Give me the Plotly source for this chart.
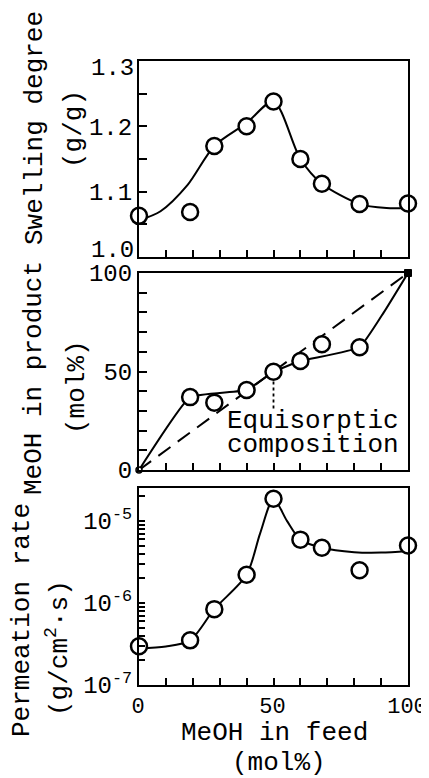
import math
import plotly.graph_objects as go

# ---------------- data ----------------
feed = [0, 19, 28, 40, 50, 60, 68, 82, 100]
swelling = [1.063, 1.069, 1.170, 1.200, 1.238, 1.150, 1.112, 1.081, 1.082]
product = [0, 37.0, 34.2, 40.6, 49.9, 55.3, 63.8, 62.3, 100]
permeation = [2.96e-7, 3.5e-7, 8.4e-7, 2.2e-6, 1.86e-5, 5.9e-6, 4.7e-6, 2.5e-6, 5.0e-6]

# hand-drawn trend curves (knots)
swell_curve_x = [0, 8, 18, 28, 40, 50, 60, 68, 82, 92, 100]
swell_curve_y = [1.056, 1.070, 1.110, 1.170, 1.205, 1.238, 1.150, 1.112, 1.081, 1.075, 1.075]

prod_curve_x = [0, 19, 40, 50, 60, 82, 91, 100]
prod_curve_y = [0, 37.0, 40.6, 49.9, 55.3, 62.3, 80, 100]

diag_x = [0, 100]
diag_y = [0, 100]

equi_x = [50, 50]
equi_y = [48, 30]

perm_curve_x = [0, 10, 19, 28, 40, 45, 50, 55, 60, 68, 80, 90, 100]
perm_curve_y = [2.8e-7, 2.95e-7, 3.5e-7, 8.4e-7, 2.2e-6, 7.0e-6, 1.85e-5, 1.0e-5,
                5.9e-6, 4.7e-6, 4.15e-6, 4.1e-6, 4.3e-6]

swell_ticks = [1.0, 1.05, 1.1, 1.15, 1.2, 1.25, 1.3]
swell_labels = {1.1: "1.1", 1.2: "1.2"}
swell_edge_labels = {1.0: "1.0", 1.3: "1.3"}
prod_ticks = list(range(0, 101, 10))
prod_labels = {0: "0", 50: "50", 100: "100"}
perm_ticks = [m * 10.0 ** e for e in (-7, -6, -5) for m in range(1, 10)
              if m * 10.0 ** e <= 2.5e-5]
perm_labels = {-7: "10<sup>-7</sup>", -6: "10<sup>-6</sup>", -5: "10<sup>-5</sup>"}
feed_ticks = list(range(0, 101, 10))
feed_labels = {0: "0", 50: "50", 100: "100"}

FONT = "Liberation Mono"
FS = 24
FSX = 22
FT = 26
BLACK = "black"

# page body has an 8px default margin: plot-area target in window pixels
BODY = 8
PX_L, PX_R, PX_T, PX_B = 139, 408, 61, 685
W, H = 429, 778

fig = go.Figure()

line_style = dict(color=BLACK, width=2, shape="spline", smoothing=0.8)
marker_style = dict(symbol="circle", size=16, color="white",
                    line=dict(color=BLACK, width=2.5))

# top panel
fig.add_trace(go.Scatter(x=swell_curve_x, y=swell_curve_y, mode="lines",
                         line=line_style, xaxis="x", yaxis="y",
                         showlegend=False, hoverinfo="skip"))
fig.add_trace(go.Scatter(x=feed, y=swelling, mode="markers", marker=marker_style,
                         xaxis="x", yaxis="y", showlegend=False, cliponaxis=False))

# middle panel
fig.add_trace(go.Scatter(x=diag_x, y=diag_y, mode="lines",
                         line=dict(color=BLACK, width=2, dash="15px,9px"),
                         xaxis="x2", yaxis="y2", showlegend=False, hoverinfo="skip"))
fig.add_trace(go.Scatter(x=prod_curve_x, y=prod_curve_y, mode="lines",
                         line=dict(color=BLACK, width=2, shape="spline", smoothing=0.35),
                         xaxis="x2", yaxis="y2", showlegend=False, hoverinfo="skip"))
fig.add_trace(go.Scatter(x=equi_x, y=equi_y, mode="lines",
                         line=dict(color=BLACK, width=1.8, dash="3px,3px"),
                         xaxis="x2", yaxis="y2", showlegend=False, hoverinfo="skip"))
inner = [i for i, v in enumerate(feed) if v not in (0, 100)]
fig.add_trace(go.Scatter(
    x=[feed[i] for i in inner], y=[product[i] for i in inner], mode="markers",
    marker=marker_style, xaxis="x2", yaxis="y2", showlegend=False, cliponaxis=False))
fig.add_trace(go.Scatter(
    x=feed[:1], y=product[:1], mode="markers",
    marker=dict(symbol="circle", size=6, color="white", line=dict(color=BLACK, width=1.5)),
    xaxis="x2", yaxis="y2", showlegend=False, cliponaxis=False))
fig.add_trace(go.Scatter(
    x=feed[-1:], y=product[-1:], mode="markers",
    marker=dict(symbol="square", size=7, color=BLACK, line=dict(color=BLACK, width=1)),
    xaxis="x2", yaxis="y2", showlegend=False, cliponaxis=False))

# bottom panel
fig.add_trace(go.Scatter(x=perm_curve_x, y=perm_curve_y, mode="lines",
                         line=line_style, xaxis="x3", yaxis="y3",
                         showlegend=False, hoverinfo="skip"))
fig.add_trace(go.Scatter(x=feed, y=permeation, mode="markers", marker=marker_style,
                         xaxis="x3", yaxis="y3", showlegend=False, cliponaxis=False))

tickfont = dict(family=FONT, size=FS, color=BLACK)
xtickfont = dict(family=FONT, size=FSX, color=BLACK)
titlefont = dict(family=FONT, size=FT, color=BLACK)
common_x = dict(range=[0, 100], showline=True, linecolor=BLACK, linewidth=2,
                mirror=True, ticks="inside", ticklen=7, tickwidth=1.5, tickcolor=BLACK,
                tickmode="array", tickvals=feed_ticks,
                ticktext=[feed_labels.get(v, "") for v in feed_ticks],
                showgrid=False, zeroline=False, tickfont=xtickfont,
                automargin=False, ticklabeloverflow="allow", ticklabelshift=-1)
common_y = dict(showline=True, linecolor=BLACK, linewidth=2, mirror=True,
                ticks="inside", ticklen=8, tickwidth=1.5, tickcolor=BLACK,
                showgrid=False, zeroline=False, tickfont=tickfont,
                tickmode="array", automargin=False, ticklabeloverflow="allow")

PH = PX_B - PX_T
d_top = [(PX_B - 257) / PH, 1.0]
d_mid = [(PX_B - 470) / PH, (PX_B - 273) / PH]
d_bot = [0.0, (PX_B - 488) / PH]

fig.update_layout(
    width=W, height=H,
    margin=dict(l=PX_L - BODY, r=W - (PX_R - BODY), t=PX_T - BODY, b=H - (PX_B - BODY)),
    paper_bgcolor="white", plot_bgcolor="white",
    font=dict(family=FONT, size=FS, color=BLACK),
    xaxis=dict(common_x, anchor="y", domain=[0, 1], showticklabels=False),
    xaxis2=dict(common_x, anchor="y2", domain=[0, 1], showticklabels=False),
    xaxis3=dict(common_x, anchor="y3", domain=[0, 1], showticklabels=True),
    yaxis=dict(common_y, anchor="x", domain=d_top, range=[1.0, 1.3],
               tickvals=swell_ticks,
               ticktext=[swell_labels.get(round(v, 2), "") for v in swell_ticks]),
    yaxis2=dict(common_y, anchor="x2", domain=d_mid, range=[0, 100],
                tickvals=prod_ticks,
                ticktext=[prod_labels.get(v, "") for v in prod_ticks]),
    yaxis3=dict(common_y, anchor="x3", domain=d_bot, type="log", range=[-7, -4.6],
                tickvals=perm_ticks, ticklen=6,
                ticktext=[perm_labels.get(round(math.log10(v), 6), "")
                          for v in perm_ticks]),
)

# end labels of the top panel, nudged inward as in the reference
for val, txt in swell_edge_labels.items():
    fig.add_annotation(text=txt, x=0, y=val, xref="paper", yref="y", showarrow=False,
                       xanchor="right", yanchor="middle", xshift=-3,
                       yshift=7 if val == 1.0 else -7, font=tickfont)


def px_x(px):
    return (px - PX_L) / (PX_R - PX_L)


def px_y(py):
    return (PX_B - py) / PH


ann = [
    ("Swelling degree", 35, 128, -90),
    ("(g/g)", 74, 129, -90),
    ("MeOH in product", 34, 378, -90),
    ("(mol%)", 77, 387, -90),
    ("Permeation rate", 22, 620, -90),
    ("(g/cm<sup>2</sup>·s)", 58, 648, -90),
    ("MeOH in feed", 274, 733, 0),
    ("(mol%)", 279, 763, 0),
]
for text, ax, ay, ang in ann:
    fig.add_annotation(text=text, x=px_x(ax), y=px_y(ay), xref="paper", yref="paper",
                       showarrow=False, textangle=ang, xanchor="center", yanchor="middle",
                       font=titlefont)

fig.add_annotation(text="Equisorptic", x=64.5, y=24.9, xref="x2", yref="y2",
                   showarrow=False, xanchor="center", yanchor="middle", font=titlefont)
fig.add_annotation(text="composition", x=64.5, y=12.7, xref="x2", yref="y2",
                   showarrow=False, xanchor="center", yanchor="middle", font=titlefont)

fig.write_html("out.html")
